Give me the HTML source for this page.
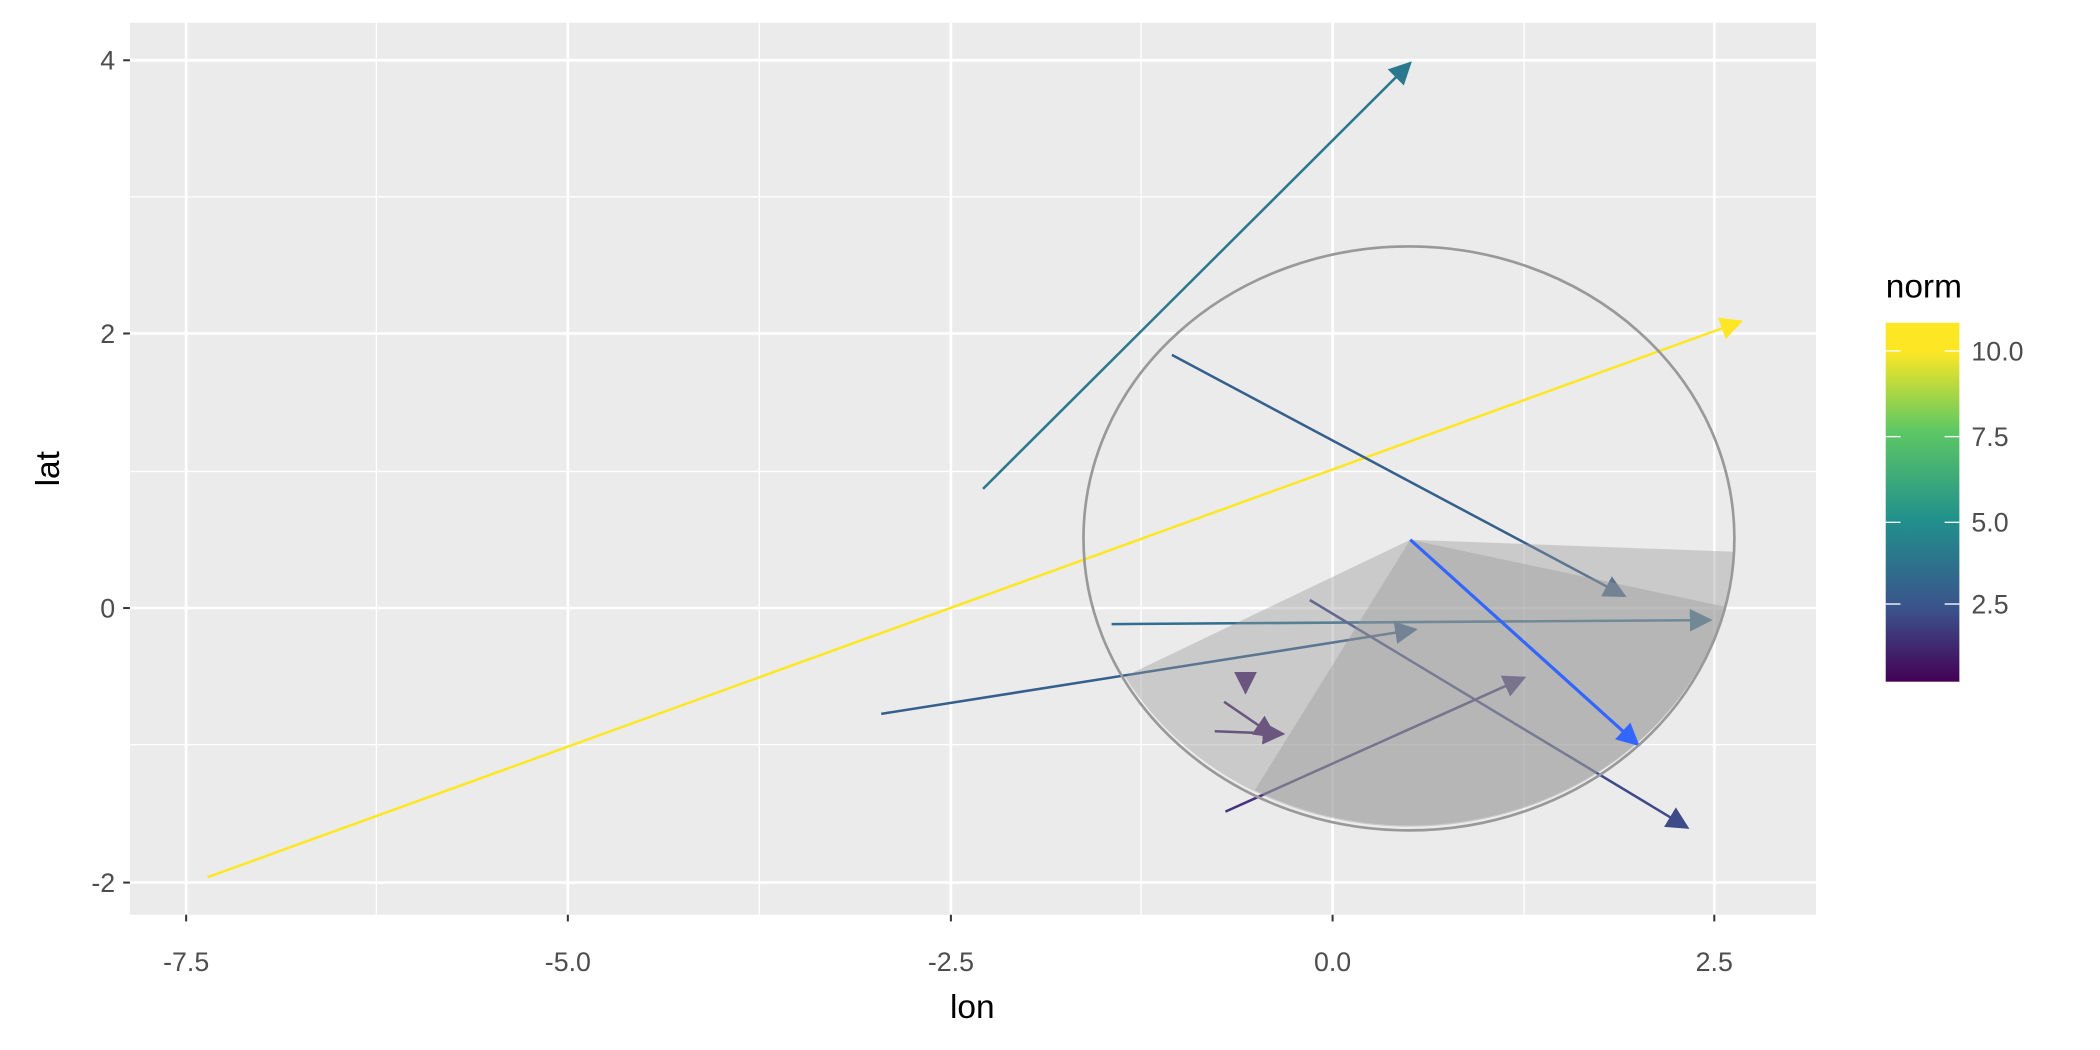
<!DOCTYPE html>
<html><head><style>body{margin:0;background:#fff}svg{display:block}</style></head><body>
<svg width="2100" height="1050" viewBox="0 0 1568 784" xmlns="http://www.w3.org/2000/svg" font-family="Liberation Sans, sans-serif">
<defs>
<marker id="ah" viewBox="0 0 10 10" refX="9" refY="5" markerWidth="17" markerHeight="17" markerUnits="userSpaceOnUse" orient="auto"><path d="M0,0L10,5L0,10z" fill="context-stroke"/></marker>
</defs>
<rect x="97" y="17" width="1259" height="666" fill="#EBEBEB"/>
<g stroke="#fff" stroke-width="1">
<line x1="281" y1="17" x2="281" y2="683"/><line x1="567" y1="17" x2="567" y2="683"/><line x1="852" y1="17" x2="852" y2="683"/><line x1="1138" y1="17" x2="1138" y2="683"/>
<line x1="97" y1="147" x2="1356" y2="147"/><line x1="97" y1="352" x2="1356" y2="352"/><line x1="97" y1="556" x2="1356" y2="556"/>
</g>
<g stroke="#fff" stroke-width="2">
<line x1="139" y1="17" x2="139" y2="683"/><line x1="424" y1="17" x2="424" y2="683"/><line x1="710" y1="17" x2="710" y2="683"/><line x1="995" y1="17" x2="995" y2="683"/><line x1="1280" y1="17" x2="1280" y2="683"/>
<line x1="97" y1="45" x2="1356" y2="45"/><line x1="97" y1="249" x2="1356" y2="249"/><line x1="97" y1="454" x2="1356" y2="454"/><line x1="97" y1="659" x2="1356" y2="659"/>
</g>
<g fill="none" stroke-width="1.9" marker-end="url(#ah)">
<line x1="155" y1="655" x2="1300" y2="240" stroke="#FDE725"/>
<line x1="734" y1="365" x2="1053" y2="47" stroke="#2A788E"/>
<line x1="875" y1="265" x2="1213" y2="445" stroke="#355F8D"/>
<line x1="830" y1="466" x2="1277" y2="463" stroke="#2E6E8E"/>
<line x1="658" y1="533" x2="1057" y2="470" stroke="#35608D"/>
<line x1="978" y1="448" x2="1260" y2="618" stroke="#3E4A89"/>
<line x1="915" y1="606" x2="1138" y2="506" stroke="#46337E"/>
<line x1="914" y1="524" x2="952" y2="550" stroke="#4B2A6E"/>
<line x1="907" y1="546" x2="958" y2="548" stroke="#4B2A6E"/>
<line x1="930" y1="503" x2="930" y2="517" stroke="#4B2A6E"/>
</g>
<path d="M1053,403 L1295,412 L1288,453 A243,218 0 0 1 840,505 Z" fill="#999" fill-opacity="0.4"/>
<path d="M1053,403 L1288,453 A243,218 0 0 1 937,590 Z" fill="#999" fill-opacity="0.4"/>
<line x1="1053" y1="403" x2="1223" y2="556" stroke="#3366FF" stroke-width="2.4" marker-end="url(#ah)"/>
<ellipse cx="1052" cy="402" rx="243" ry="218" fill="none" stroke="#999" stroke-width="2"/>
<g stroke="#333" stroke-width="1.5">
<line x1="92" y1="45" x2="97" y2="45"/><line x1="92" y1="249" x2="97" y2="249"/><line x1="92" y1="454" x2="97" y2="454"/><line x1="92" y1="659" x2="97" y2="659"/>
<line x1="139" y1="683" x2="139" y2="688"/><line x1="424" y1="683" x2="424" y2="688"/><line x1="710" y1="683" x2="710" y2="688"/><line x1="995" y1="683" x2="995" y2="688"/><line x1="1280" y1="683" x2="1280" y2="688"/>
</g>
<g font-size="20" fill="#4D4D4D" text-anchor="end">
<text x="86" y="52">4</text><text x="86" y="256">2</text><text x="86" y="461">0</text><text x="86" y="666">-2</text>
</g>
<g font-size="20" fill="#4D4D4D" text-anchor="middle">
<text x="139" y="725">-7.5</text><text x="424" y="725">-5.0</text><text x="710" y="725">-2.5</text><text x="995" y="725">0.0</text><text x="1280" y="725">2.5</text>
</g>
<text x="726" y="760" font-size="25" text-anchor="middle" fill="#000">lon</text>
<text transform="translate(44,350) rotate(-90)" font-size="25" text-anchor="middle" fill="#000">lat</text>
<text x="1408" y="222" font-size="25" fill="#000">norm</text>
<defs><linearGradient id="vg" x1="0" y1="1" x2="0" y2="0">
<stop offset="0" stop-color="#440154"/><stop offset="0.2" stop-color="#3B528B"/><stop offset="0.45" stop-color="#21908C"/><stop offset="0.7" stop-color="#5DC863"/><stop offset="0.92" stop-color="#FDE725"/><stop offset="1" stop-color="#FDE725"/>
</linearGradient></defs>
<rect x="1408" y="241" width="55" height="268" fill="url(#vg)"/>
<g stroke="#fff" stroke-width="1">
<line x1="1408" y1="262" x2="1419" y2="262"/><line x1="1452" y1="262" x2="1463" y2="262"/>
<line x1="1408" y1="326" x2="1419" y2="326"/><line x1="1452" y1="326" x2="1463" y2="326"/>
<line x1="1408" y1="390" x2="1419" y2="390"/><line x1="1452" y1="390" x2="1463" y2="390"/>
<line x1="1408" y1="451" x2="1419" y2="451"/><line x1="1452" y1="451" x2="1463" y2="451"/>
</g>
<g font-size="20" fill="#4D4D4D">
<text x="1472" y="269">10.0</text><text x="1472" y="333">7.5</text><text x="1472" y="397">5.0</text><text x="1472" y="458">2.5</text>
</g>
</svg>
</body></html>
